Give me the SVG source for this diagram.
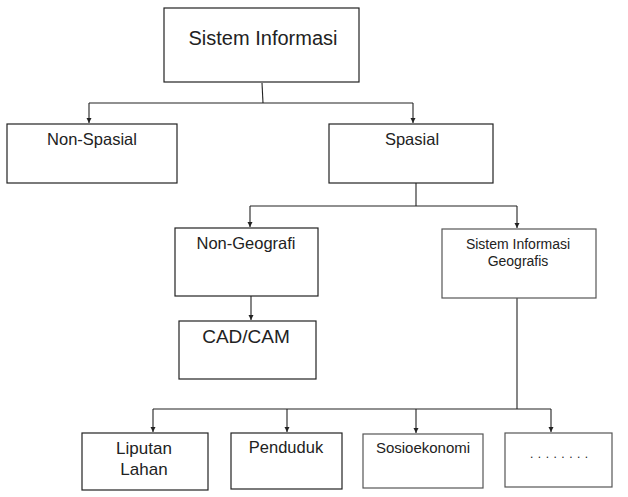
<svg xmlns="http://www.w3.org/2000/svg" width="628" height="497" viewBox="0 0 628 497">
<style>
.box{fill:#fff;stroke:#222;stroke-width:1.2}
.gbox{fill:#fff;stroke:#555;stroke-width:1.2}
.t{font-family:"Liberation Sans",Arial,sans-serif;fill:#222;text-anchor:middle}
.c{fill:none;stroke:#222;stroke-width:1.1}
</style>
<defs>
<marker id="ah" markerWidth="6" markerHeight="6" refX="5" refY="3" orient="auto" markerUnits="userSpaceOnUse">
<path d="M0,0.5 L5,3 L0,5.5 Z" fill="#222"/>
</marker>
</defs>
<rect width="628" height="497" fill="#fff"/>
<g id="connectors">
<path class="c" d="M262,83 L263,103"/>
<path class="c" d="M89,103 L413,103"/>
<path class="c" d="M89,103 L89,123" marker-end="url(#ah)"/>
<path class="c" d="M413,103 L413,123" marker-end="url(#ah)"/>
<path class="c" d="M416,183 L416,206"/>
<path class="c" d="M250,206 L517,206"/>
<path class="c" d="M250,206 L250,227" marker-end="url(#ah)"/>
<path class="c" d="M517,206 L517,228" marker-end="url(#ah)"/>
<path class="c" d="M251,296 L251,320" marker-end="url(#ah)"/>
<path class="c" d="M517,298 L517,409"/>
<path class="c" d="M153,409 L551,409"/>
<path class="c" d="M153,409 L153,432" marker-end="url(#ah)"/>
<path class="c" d="M287,409 L287,432" marker-end="url(#ah)"/>
<path class="c" d="M416,409 L416,433" marker-end="url(#ah)"/>
<path class="c" d="M551,409 L551,432" marker-end="url(#ah)"/>
</g>
<g id="sistem-informasi">
<rect class="box" x="164" y="8" width="195" height="74"/>
<text class="t" x="263" y="45" font-size="20">Sistem Informasi</text>
</g>
<g id="non-spasial">
<rect class="box" x="7" y="124" width="170" height="59"/>
<text class="t" x="92" y="145" font-size="16.5">Non-Spasial</text>
</g>
<g id="spasial">
<rect class="box" x="329" y="124" width="164" height="59"/>
<text class="t" x="412" y="145" font-size="16.5">Spasial</text>
</g>
<g id="non-geografi">
<rect class="box" x="175" y="228" width="143" height="68"/>
<text class="t" x="246" y="249" font-size="16.5">Non-Geografi</text>
</g>
<g id="sig">
<rect class="gbox" x="442" y="229" width="154" height="69"/>
<text class="t" x="518" y="249" font-size="14">Sistem Informasi</text>
<text class="t" x="518" y="266" font-size="14">Geografis</text>
</g>
<g id="cad-cam">
<rect class="box" x="179" y="321" width="137" height="58"/>
<text class="t" x="246" y="343" font-size="19">CAD/CAM</text>
</g>
<g id="liputan-lahan">
<rect class="box" x="82" y="433" width="126" height="57"/>
<text class="t" x="144" y="454" font-size="17">Liputan</text>
<text class="t" x="144" y="475" font-size="17">Lahan</text>
</g>
<g id="penduduk">
<rect class="box" x="231" y="433" width="111" height="56"/>
<text class="t" x="286" y="453" font-size="16.5">Penduduk</text>
</g>
<g id="sosioekonomi">
<rect class="gbox" x="363" y="434" width="120" height="54"/>
<text class="t" x="423" y="453" font-size="15">Sosioekonomi</text>
</g>
<g id="etc">
<rect class="gbox" x="505" y="433" width="107" height="54"/>
<text x="530" y="458" font-family="Liberation Sans,Arial,sans-serif" font-size="12" fill="#222" letter-spacing="4.5">........</text>
</g>
</svg>
